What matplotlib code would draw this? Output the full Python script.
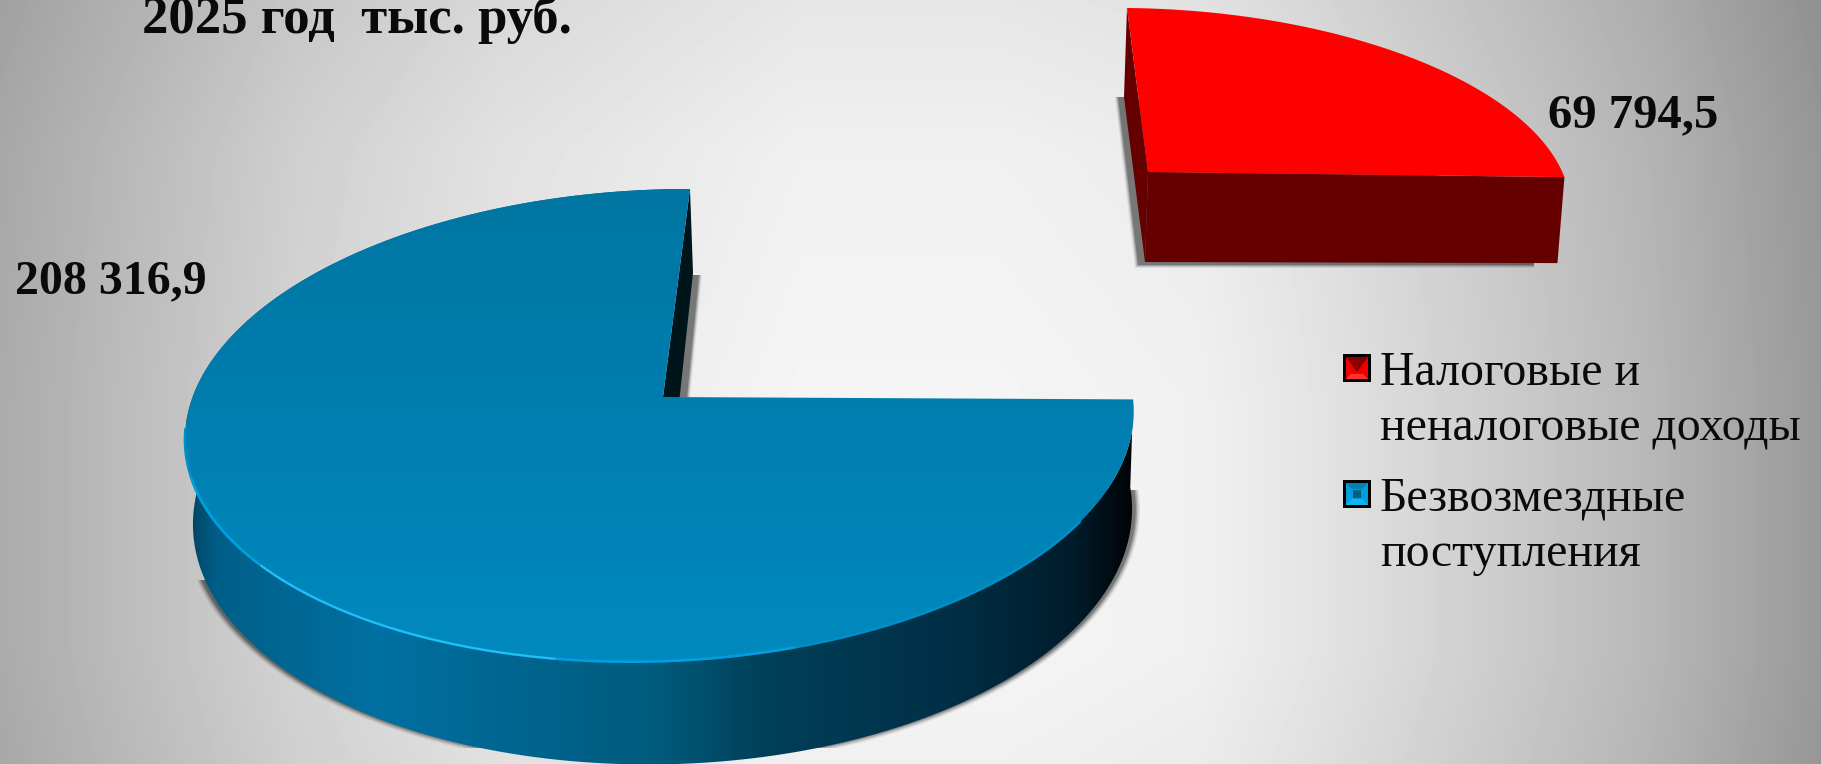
import numpy as np
import matplotlib
matplotlib.use("Agg")
import matplotlib.pyplot as plt
from matplotlib.colors import LinearSegmentedColormap
from matplotlib.patches import Polygon, Rectangle

# datos
categorias = ["Налоговые и\nненалоговые доходы", "Безвозмездные\nпоступления"]
valores = [69794.5, 208316.9]
etiquetas = ["69 794,5", "208 316,9"]
titulo = "2025 год  тыс. руб."

W, H = 1821, 764
SERIF = "Liberation Serif"

fig = plt.figure(figsize=(W / 100, H / 100), dpi=100)
ax = fig.add_axes([0, 0, 1, 1])


def proyector(C, T, R, k):
    # disco unidad -> pantalla, con perspectiva k
    C, T, R = np.array(C, float), np.array(T, float), np.array(R, float)
    a = R - C
    b = (T - C) * (1 + k)

    def f(t):
        u, v = np.cos(t), np.sin(t)
        d = 1 + k * v
        return np.column_stack([C[0] + (a[0] * u + b[0] * v) / d,
                                C[1] + (a[1] * u + b[1] * v) / d])
    return f


def arco(f, a0, a1, n=300):
    return f(np.radians(np.linspace(a0, a1, n)))


# angulos sacados de los valores, sentido horario desde arriba
total = sum(valores)
ang_rojo = 360 * valores[0] / total
ini_rojo, fin_rojo = 90, 90 - ang_rojo
ini_azul, fin_azul = fin_rojo, 90 - 360

# fondo
xs = np.arange(W)
ys = np.arange(H)
bx = np.interp(xs, [0, 150, 300, 500, 800, 1000, 1200, 1300, 1500, 1650, 1821],
               [0.67, 0.75, 0.83, 0.90, 0.96, 0.96, 0.94, 0.90, 0.80, 0.72, 0.60])
by = np.interp(ys, [0, 150, 400, 650, 764], [0.94, 0.98, 1.0, 1.0, 0.98])
fondo = np.outer(by, bx)
ax.imshow(fondo, cmap="gray", vmin=0, vmax=1, extent=[0, W, H, 0], aspect="auto", zorder=0)

# porcion azul
az_sup = proyector((663, 397), (690, 189), (1133, 398), 0.12)
az_inf = proyector((664, 487), (675, 269), (1130, 486), 0.12)
# porcion roja
ro_sup = proyector((1148, 172), (1127, 8), (1564, 176), 0.12)
ro_inf = proyector((1145, 262), (1124, 97), (1557, 262), 0.12)

# sombras
zona = [(0, 580), (660, 580), (660, 490), (W, 490), (W, 748), (0, 748)]
for i, alfa in zip([3, 2, 1, 0], [0.07, 0.12, 0.18, 0.25]):
    p = arco(az_inf, -180, 0)
    p = np.array([664, 490]) + (p - np.array([664, 490])) * np.array([1.008 + i * 0.003, 1.0 + i * 0.005])
    s = Polygon(p, color="black", alpha=alfa, lw=0, zorder=1)
    ax.add_patch(s)
    s.set_clip_path(Polygon(zona, transform=ax.transData))
    ax.add_patch(Polygon([(686, 275), (699 + i, 275), (687 + i, 397), (676, 397)],
                         color="black", alpha=alfa, lw=0, zorder=1))
    ax.add_patch(Polygon([(1130, 97), (1118 - i, 97), (1138 - i, 265 + i), (1534, 265 + i), (1534, 200)],
                         color="black", alpha=alfa, lw=0, zorder=1))

# lateral azul con degradado
lateral = np.vstack([arco(az_sup, ini_azul, fin_azul), arco(az_inf, fin_azul, ini_azul)])
cm_lat = LinearSegmentedColormap.from_list("lat", [
    (0.00, "#00415f"), (0.03, "#005f88"), (0.20, "#0070a2"), (0.50, "#005a7c"),
    (0.61, "#004058"), (0.80, "#003048"), (0.94, "#001c2a"), (1.00, "#000407")])
grad = ax.imshow(np.linspace(0, 1, 512).reshape(1, -1), cmap=cm_lat, vmin=0, vmax=1,
                 extent=[186, 1133, H, 0], aspect="auto", zorder=2)
grad.set_clip_path(Polygon(lateral, transform=ax.transData))

# cara interior azul
ax.add_patch(Polygon([az_sup(np.radians([90]))[0], (693, 273), (670, 487), (663, 397)],
                     color="#00141c", lw=0, zorder=3))

# tapa azul
tapa = np.vstack([[(663, 397)], arco(az_sup, ini_azul, fin_azul)])
cm_tapa = LinearSegmentedColormap.from_list("tapa", ["#0075a2", "#007fb0", "#008abf"])
g2 = ax.imshow(np.linspace(0, 1, 512).reshape(-1, 1), cmap=cm_tapa, vmin=0, vmax=1,
               extent=[150, 1150, 670, 185], aspect="auto", zorder=4)
g2.set_clip_path(Polygon(tapa, transform=ax.transData))

# brillo del borde
for a0, a1, col, lw in [(-172, -30, "#008fc6", 1.8), (-160, -72, "#009fdf", 1.8), (-138, -98, "#25c0f5", 1.4)]:
    b = arco(az_sup, a0, a1)
    ax.plot(b[:, 0], b[:, 1], color=col, lw=lw, solid_capstyle="round", zorder=5)

# porcion roja
ax.add_patch(Polygon([ro_sup(np.radians([90]))[0], ro_inf(np.radians([90]))[0], (1145, 262), (1148, 172)],
                     color="#640000", lw=0, zorder=3))
ax.add_patch(Polygon([(1148, 172), ro_sup(np.radians([fin_rojo]))[0], ro_inf(np.radians([fin_rojo]))[0], (1145, 262)],
                     color="#640000", lw=0, zorder=3))
ax.add_patch(Polygon(np.vstack([[(1148, 172)], arco(ro_sup, ini_rojo, fin_rojo)]),
                     color="#ff0000", lw=0, zorder=4))

# leyenda
for (y0, claro, medio, oscuro, centro) in [(354, "#ff3030", "#ee0000", "#8a0000", None),
                                            (480, "#10b4ee", "#009fdc", "#0080b4", "#005f88")]:
    x0 = 1343
    ax.add_patch(Rectangle((x0, y0), 28, 28, color="black", lw=0, zorder=5))
    x1, y1, s = x0 + 3, y0 + 3, 22
    ax.add_patch(Rectangle((x1, y1), s, s, color=medio, lw=0, zorder=6))
    if centro:
        ax.add_patch(Polygon([(x1, y1 + s), (x1 + s, y1 + s), (x1 + s - 6, y1 + s - 6), (x1 + 6, y1 + s - 6)],
                             color=claro, lw=0, zorder=7))
        ax.add_patch(Polygon([(x1, y1), (x1 + s, y1), (x1 + s - 6, y1 + 6), (x1 + 6, y1 + 6)],
                             color=oscuro, lw=0, zorder=7))
        ax.add_patch(Rectangle((x1 + 7, y1 + 7), s - 14, s - 14, color=centro, lw=0, zorder=8))
    else:
        ax.add_patch(Polygon([(x1, y1 + s), (x1 + s, y1 + s), (x1 + s - 5, y1 + s - 5), (x1 + 5, y1 + s - 5)],
                             color=claro, lw=0, zorder=7))
        ax.add_patch(Polygon([(x1, y1), (x1 + s, y1), (x1 + s / 2, y1 + s - 7)],
                             color=oscuro, lw=0, zorder=7))

lineas = categorias[0].split("\n") + categorias[1].split("\n")
for txt, yb in zip(lineas, [385, 440, 510, 566]):
    ax.text(1380, yb, txt, family=SERIF, fontsize=34.5, color="#0a0a0a", va="baseline", ha="left", zorder=9)

# etiquetas
ax.text(1548, 127, etiquetas[0], family=SERIF, fontsize=35, fontweight="bold", color="#0a0a0a", va="baseline", zorder=9)
ax.text(15, 293, etiquetas[1], family=SERIF, fontsize=34.5, fontweight="bold", color="#0a0a0a", va="baseline", zorder=9)
ax.text(142, 33, titulo, family=SERIF, fontsize=38, fontweight="bold", color="#0a0a0a", va="baseline", zorder=9)

ax.set_xlim(0, W)
ax.set_ylim(H, 0)
ax.axis("off")
fig.savefig("out.png", dpi=100)
